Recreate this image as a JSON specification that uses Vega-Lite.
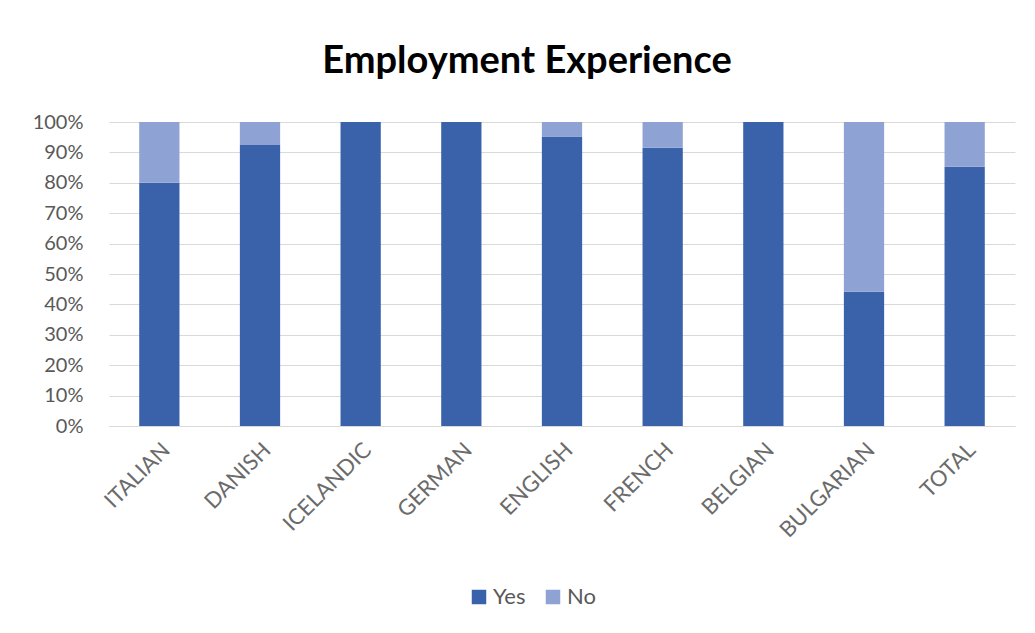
{
  "$schema": "https://vega.github.io/schema/vega-lite/v6.json",
  "autosize": "none",
  "width": 906,
  "height": 304,
  "padding": {"left": 109, "top": 122, "right": 20, "bottom": 207},
  "background": "white",
  "title": {
    "text": "Employment Experience",
    "font": "Lato",
    "fontSize": 38,
    "fontWeight": "bold",
    "color": "#000000",
    "anchor": "middle",
    "baseline": "alphabetic",
    "dx": -35,
    "offset": 1
  },
  "data": {
    "values": [
      {"group": "ITALIAN", "answer": "Yes", "share": 0.80, "ord": 1},
      {"group": "ITALIAN", "answer": "No", "share": 0.20, "ord": 2},
      {"group": "DANISH", "answer": "Yes", "share": 0.924, "ord": 1},
      {"group": "DANISH", "answer": "No", "share": 0.076, "ord": 2},
      {"group": "ICELANDIC", "answer": "Yes", "share": 1.0, "ord": 1},
      {"group": "ICELANDIC", "answer": "No", "share": 0.0, "ord": 2},
      {"group": "GERMAN", "answer": "Yes", "share": 1.0, "ord": 1},
      {"group": "GERMAN", "answer": "No", "share": 0.0, "ord": 2},
      {"group": "ENGLISH", "answer": "Yes", "share": 0.952, "ord": 1},
      {"group": "ENGLISH", "answer": "No", "share": 0.048, "ord": 2},
      {"group": "FRENCH", "answer": "Yes", "share": 0.915, "ord": 1},
      {"group": "FRENCH", "answer": "No", "share": 0.085, "ord": 2},
      {"group": "BELGIAN", "answer": "Yes", "share": 1.0, "ord": 1},
      {"group": "BELGIAN", "answer": "No", "share": 0.0, "ord": 2},
      {"group": "BULGARIAN", "answer": "Yes", "share": 0.442, "ord": 1},
      {"group": "BULGARIAN", "answer": "No", "share": 0.558, "ord": 2},
      {"group": "TOTAL", "answer": "Yes", "share": 0.853, "ord": 1},
      {"group": "TOTAL", "answer": "No", "share": 0.147, "ord": 2}
    ]
  },
  "mark": {"type": "bar"},
  "encoding": {
    "x": {
      "field": "group",
      "type": "nominal",
      "sort": null,
      "scale": {"paddingInner": 0.6, "paddingOuter": 0.3},
      "axis": {
        "title": null,
        "labelAngle": -45,
        "labelFont": "Lato",
        "labelFontSize": 22,
        "labelColor": "#6b6b6b",
        "labelPadding": 13,
        "ticks": false,
        "domain": true,
        "domainColor": "#d9d9d9",
        "grid": false
      }
    },
    "y": {
      "field": "share",
      "type": "quantitative",
      "stack": "zero",
      "scale": {"domain": [0, 1], "nice": false},
      "axis": {
        "title": null,
        "values": [0, 0.1, 0.2, 0.3, 0.4, 0.5, 0.6, 0.7, 0.8, 0.9, 1.0],
        "format": ".0%",
        "labelFont": "Lato",
        "labelFontSize": 20,
        "labelColor": "#595959",
        "labelPadding": 26,
        "ticks": false,
        "domain": false,
        "grid": true,
        "gridColor": "#d9d9d9",
        "gridWidth": 1
      }
    },
    "color": {
      "field": "answer",
      "type": "nominal",
      "scale": {"domain": ["Yes", "No"], "range": ["#3a62aa", "#8fa2d4"]},
      "legend": {
        "title": null,
        "orient": "none",
        "direction": "horizontal",
        "legendX": 359,
        "legendY": 464,
        "symbolType": "square",
        "symbolSize": 210,
        "symbolStrokeWidth": 0,
        "labelFont": "Lato",
        "labelFontSize": 22,
        "labelColor": "#595959",
        "columnPadding": 16,
        "labelOffset": 3
      }
    },
    "order": {"field": "ord", "type": "quantitative"}
  },
  "config": {
    "view": {"stroke": null}
  }
}
